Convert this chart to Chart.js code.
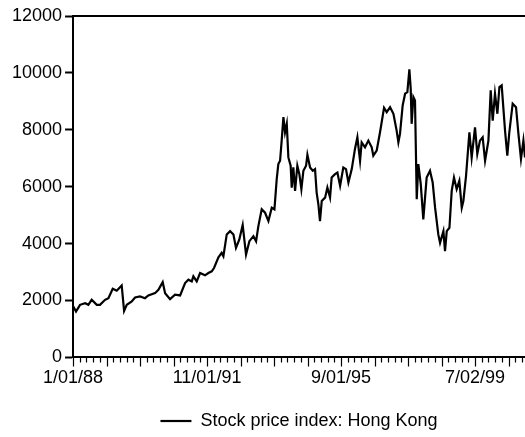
<!DOCTYPE html>
<html>
<head>
<meta charset="utf-8">
<script src="https://cdn.jsdelivr.net/npm/chart.js@4/dist/chart.umd.min.js"></script>
<style>
  html, body { margin: 0; padding: 0; background: #fff; }
  #wrap { width: 525px; height: 437px; position: relative; }
</style>
</head>
<body>
<div id="wrap"><canvas id="chart"></canvas></div>
<script>
const dayIndex = [
  2, 22, 52, 90, 114, 139, 177, 201, 239, 264, 296, 326, 363, 381, 401, 438, 463, 500, 537, 562,
  612, 637, 669, 687, 724, 761, 799, 836, 861, 886, 898, 923, 948, 985, 1010, 1035, 1052, 1085, 1109, 1122,
  1147, 1172, 1197, 1216, 1241, 1266, 1291, 1316, 1346, 1366, 1383, 1408, 1433, 1458, 1483, 1503, 1520, 1532, 1545, 1557,
  1570, 1582, 1595, 1607, 1624, 1632, 1644, 1657, 1674, 1689, 1704, 1719, 1739, 1749, 1769, 1789, 1806, 1818, 1831, 1843,
  1856, 1881, 1898, 1918, 1930, 1955, 1973, 1993, 2017, 2037, 2055, 2080, 2104, 2122, 2142, 2154, 2179, 2204, 2229, 2241,
  2266, 2291, 2321, 2341, 2366, 2391, 2415, 2428, 2440, 2460, 2478, 2495, 2510, 2520, 2527, 2540, 2552, 2565, 2577, 2595,
  2614, 2639, 2664, 2684, 2702, 2726, 2739, 2764, 2776, 2789, 2809, 2826, 2843, 2863, 2883, 2901, 2913, 2933, 2958, 2975,
  3000, 3017, 3037, 3057, 3075, 3100, 3117, 3132, 3149, 3167, 3182, 3199, 3212, 3224, 3241, 3256, 3281, 3306, 3324, 3343,
  3361, 3373
];
const priceIndex = [
  1788, 1612, 1848, 1905, 1848, 2025, 1848, 1848, 2025, 2082, 2414, 2343, 2530, 1636, 1848, 1965, 2106, 2142, 2082, 2177,
  2258, 2378, 2647, 2258, 2046, 2202, 2177, 2612, 2732, 2672, 2848, 2672, 2965, 2884, 2965, 3025, 3142, 3520, 3672, 3555,
  4322, 4439, 4322, 3849, 4145, 4651, 3615, 4085, 4262, 4085, 4615, 5206, 5085, 4792, 5262, 5206, 6266, 6796, 6912, 7620,
  8443, 7913, 8210, 7029, 6736, 5969, 6677, 5852, 6736, 6442, 5912, 6559, 6736, 7125, 6677, 6559, 6619, 5792, 5382, 4792,
  5499, 5616, 5969, 5616, 6322, 6442, 6499, 6029, 6677, 6619, 6146, 6619, 7326, 7736, 6912, 7559, 7383, 7620, 7383, 7089,
  7266, 7913, 8775, 8620, 8796, 8563, 7973, 7559, 7856, 8856, 9270, 9326, 10128, 9446, 8210, 9150, 9033, 5559, 6796, 6089,
  4852, 6322, 6559, 6146, 5262, 4322, 4025, 4439, 3732, 4439, 4555, 5852, 6322, 5912, 6206, 5262, 5499, 6382, 7913, 7029,
  8089, 7149, 7620, 7736, 6912, 7620, 9386, 8325, 9270, 8563, 9503, 9563, 8738, 7973, 7089, 7913, 8916, 8796, 7856, 6972,
  7620, 7029
];
const tickObs = [0, 1000, 2000, 3000];
const tickLabels = ['1/01/88', '11/01/91', '9/01/95', '7/02/99'];
const lastObs = 3373;

Chart.defaults.font.family = '"Liberation Sans", Arial, sans-serif';
Chart.defaults.font.size = 18;
Chart.defaults.color = '#000';

// small ticks every 50 obs, longer ones every 250, hanging under the time axis
const minorTicks = {
  id: 'minorTicks',
  afterDraw(chart) {
    const x = chart.scales.x;
    const ctx = chart.ctx;
    const y0 = chart.chartArea.bottom;
    ctx.save();
    ctx.strokeStyle = '#000';
    ctx.lineWidth = 1.2;
    ctx.beginPath();
    for (let v = 0; v <= lastObs; v += 50) {
      const px = Math.round(x.getPixelForValue(v)) + 0.5;
      const len = v % 250 === 0 ? 9 : 5;
      ctx.moveTo(px, y0);
      ctx.lineTo(px, y0 + len);
    }
    ctx.stroke();
    ctx.restore();
  }
};

new Chart(document.getElementById('chart'), {
  type: 'line',
  data: {
    datasets: [{
      label: 'Stock price index: Hong Kong',
      data: dayIndex.map((d, i) => ({ x: d, y: priceIndex[i] })),
      borderColor: '#000',
      backgroundColor: '#000',
      borderWidth: 2.2,
      pointRadius: 0,
      tension: 0
    }]
  },
  options: {
    responsive: true,
    maintainAspectRatio: false,
    animation: false,
    layout: { padding: { left: 9, right: 0, top: 16, bottom: -3 } },
    plugins: {
      tooltip: { enabled: false },
      legend: {
        position: 'bottom',
        fullSize: false,
        labels: {
          usePointStyle: true,
          pointStyle: 'line',
          pointStyleWidth: 31,
          boxHeight: 18,
          color: '#000',
          padding: 4
        }
      }
    },
    scales: {
      x: {
        type: 'linear',
        min: 0,
        max: lastObs,
        afterBuildTicks: scale => { scale.ticks = tickObs.map(v => ({ value: v })); },
        afterFit: scale => { scale.height += 17; },
        ticks: {
          autoSkip: false,
          maxRotation: 0,
          padding: 2,
          callback: v => tickLabels[tickObs.indexOf(v)]
        },
        grid: { display: false },
        border: { display: true, color: '#000', width: 2 }
      },
      xTop: {
        type: 'linear',
        position: 'top',
        ticks: { display: false },
        grid: { display: false, drawTicks: false },
        border: { display: true, color: '#000', width: 2 }
      },
      y: {
        min: 0,
        max: 12000,
        ticks: { stepSize: 2000, padding: 3, callback: v => String(v) },
        grid: { drawOnChartArea: false, drawTicks: true, tickLength: 8, tickWidth: 2, tickColor: '#000' },
        border: { display: true, color: '#000', width: 2 }
      }
    }
  },
  plugins: [minorTicks]
});
</script>
</body>
</html>
